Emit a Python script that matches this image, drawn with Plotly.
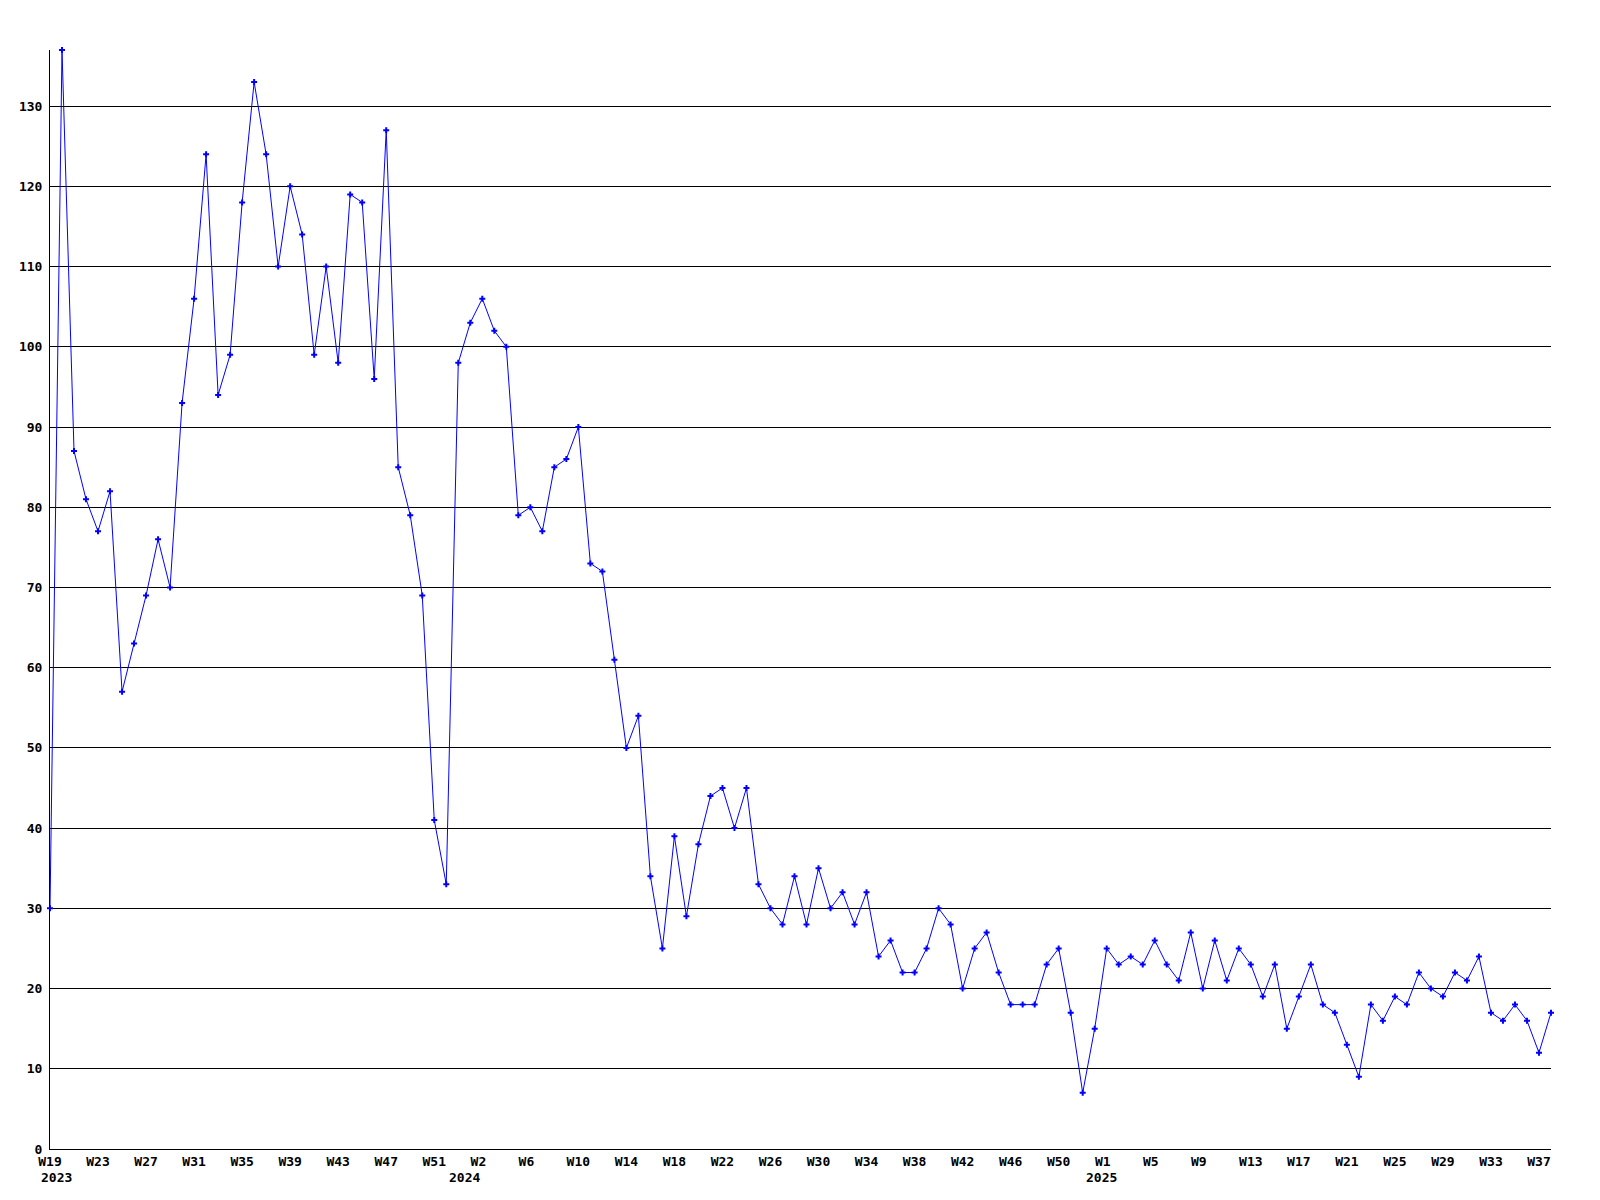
import plotly.graph_objects as go

# Week categories (one point per week)
weeks_2023 = [f"2023-W{w}" for w in range(19, 54)]
weeks_2024 = [f"2024-W{w}" for w in range(1, 54)]
weeks_2025 = [f"2025-W{w}" for w in range(1, 39)]
weeks = weeks_2023 + weeks_2024 + weeks_2025

values = [
    30, 137, 87, 81, 77, 82, 57, 63, 69, 76,
    70, 93, 106, 124, 94, 99, 118, 133, 124, 110,
    120, 114, 99, 110, 98, 119, 118, 96, 127, 85,
    79, 69, 41, 33, 98, 103, 106, 102, 100, 79,
    80, 77, 85, 86, 90, 73, 72, 61, 50, 54,
    34, 25, 39, 29, 38, 44, 45, 40, 45, 33,
    30, 28, 34, 28, 35, 30, 32, 28, 32, 24,
    26, 22, 22, 25, 30, 28, 20, 25, 27, 22,
    18, 18, 18, 23, 25, 17, 7, 15, 25, 23,
    24, 23, 26, 23, 21, 27, 20, 26, 21, 25,
    23, 19, 23, 15, 19, 23, 18, 17, 13, 9,
    18, 16, 19, 18, 22, 20, 19, 22, 21, 24,
    17, 16, 18, 16, 12, 17,
]

# Tick labels (every 4th week)
tick_weeks = weeks[::4]
tick_labels = [
    "W19", "W23", "W27", "W31", "W35", "W39", "W43", "W47", "W51",
    "W2", "W6", "W10", "W14", "W18", "W22", "W26", "W30", "W34",
    "W38", "W42", "W46", "W50", "W1", "W5", "W9", "W13", "W17",
    "W21", "W25", "W29", "W33", "W37",
]
# pad 2-char labels so that all labels start at the same offset
tick_text = [t if len(t) >= 3 else t + "\u00a0" for t in tick_labels]

year_labels = ["2023", "2024", "2025"]
year_anchor_weeks = ["2023-W19", "2023-W53", "2024-W53"]

y_ticks = list(range(0, 140, 10))

font = dict(family="DejaVu Sans Mono", size=13, color="black", weight="bold")

fig = go.Figure()
fig.add_trace(go.Scatter(
    x=weeks, y=values, mode="lines+markers",
    line=dict(color="#0000ff", width=1),
    marker=dict(symbol="cross", size=5, color="#0000ff", line=dict(width=0)),
    cliponaxis=False,
    showlegend=False,
))

for lab, wk in zip(year_labels, year_anchor_weeks):
    fig.add_annotation(
        x=wk, y=0, xref="x", yref="paper", text=lab, showarrow=False,
        xanchor="left", yanchor="middle", xshift=-11, yshift=-28,
        font=font,
    )

fig.update_layout(
    width=1600, height=1200,
    margin=dict(l=42, r=57, t=42, b=59),
    paper_bgcolor="white", plot_bgcolor="white",
    font=font,
    xaxis=dict(
        type="category", range=[0, len(weeks) - 1], automargin=False,
        tickmode="array", tickvals=tick_weeks, ticktext=tick_text,
        showgrid=False, zeroline=False,
        showline=True, linecolor="black", linewidth=1,
        ticks="", ticklabelstandoff=0, tickfont=font,
    ),
    yaxis=dict(
        range=[0, 137], tickmode="array", tickvals=y_ticks, automargin=False,
        showgrid=True, gridcolor="black", gridwidth=1,
        zeroline=False, showline=True, linecolor="black", linewidth=1,
        ticks="", ticklabelstandoff=4, tickfont=font,
    ),
)

fig.write_html("out.html")
